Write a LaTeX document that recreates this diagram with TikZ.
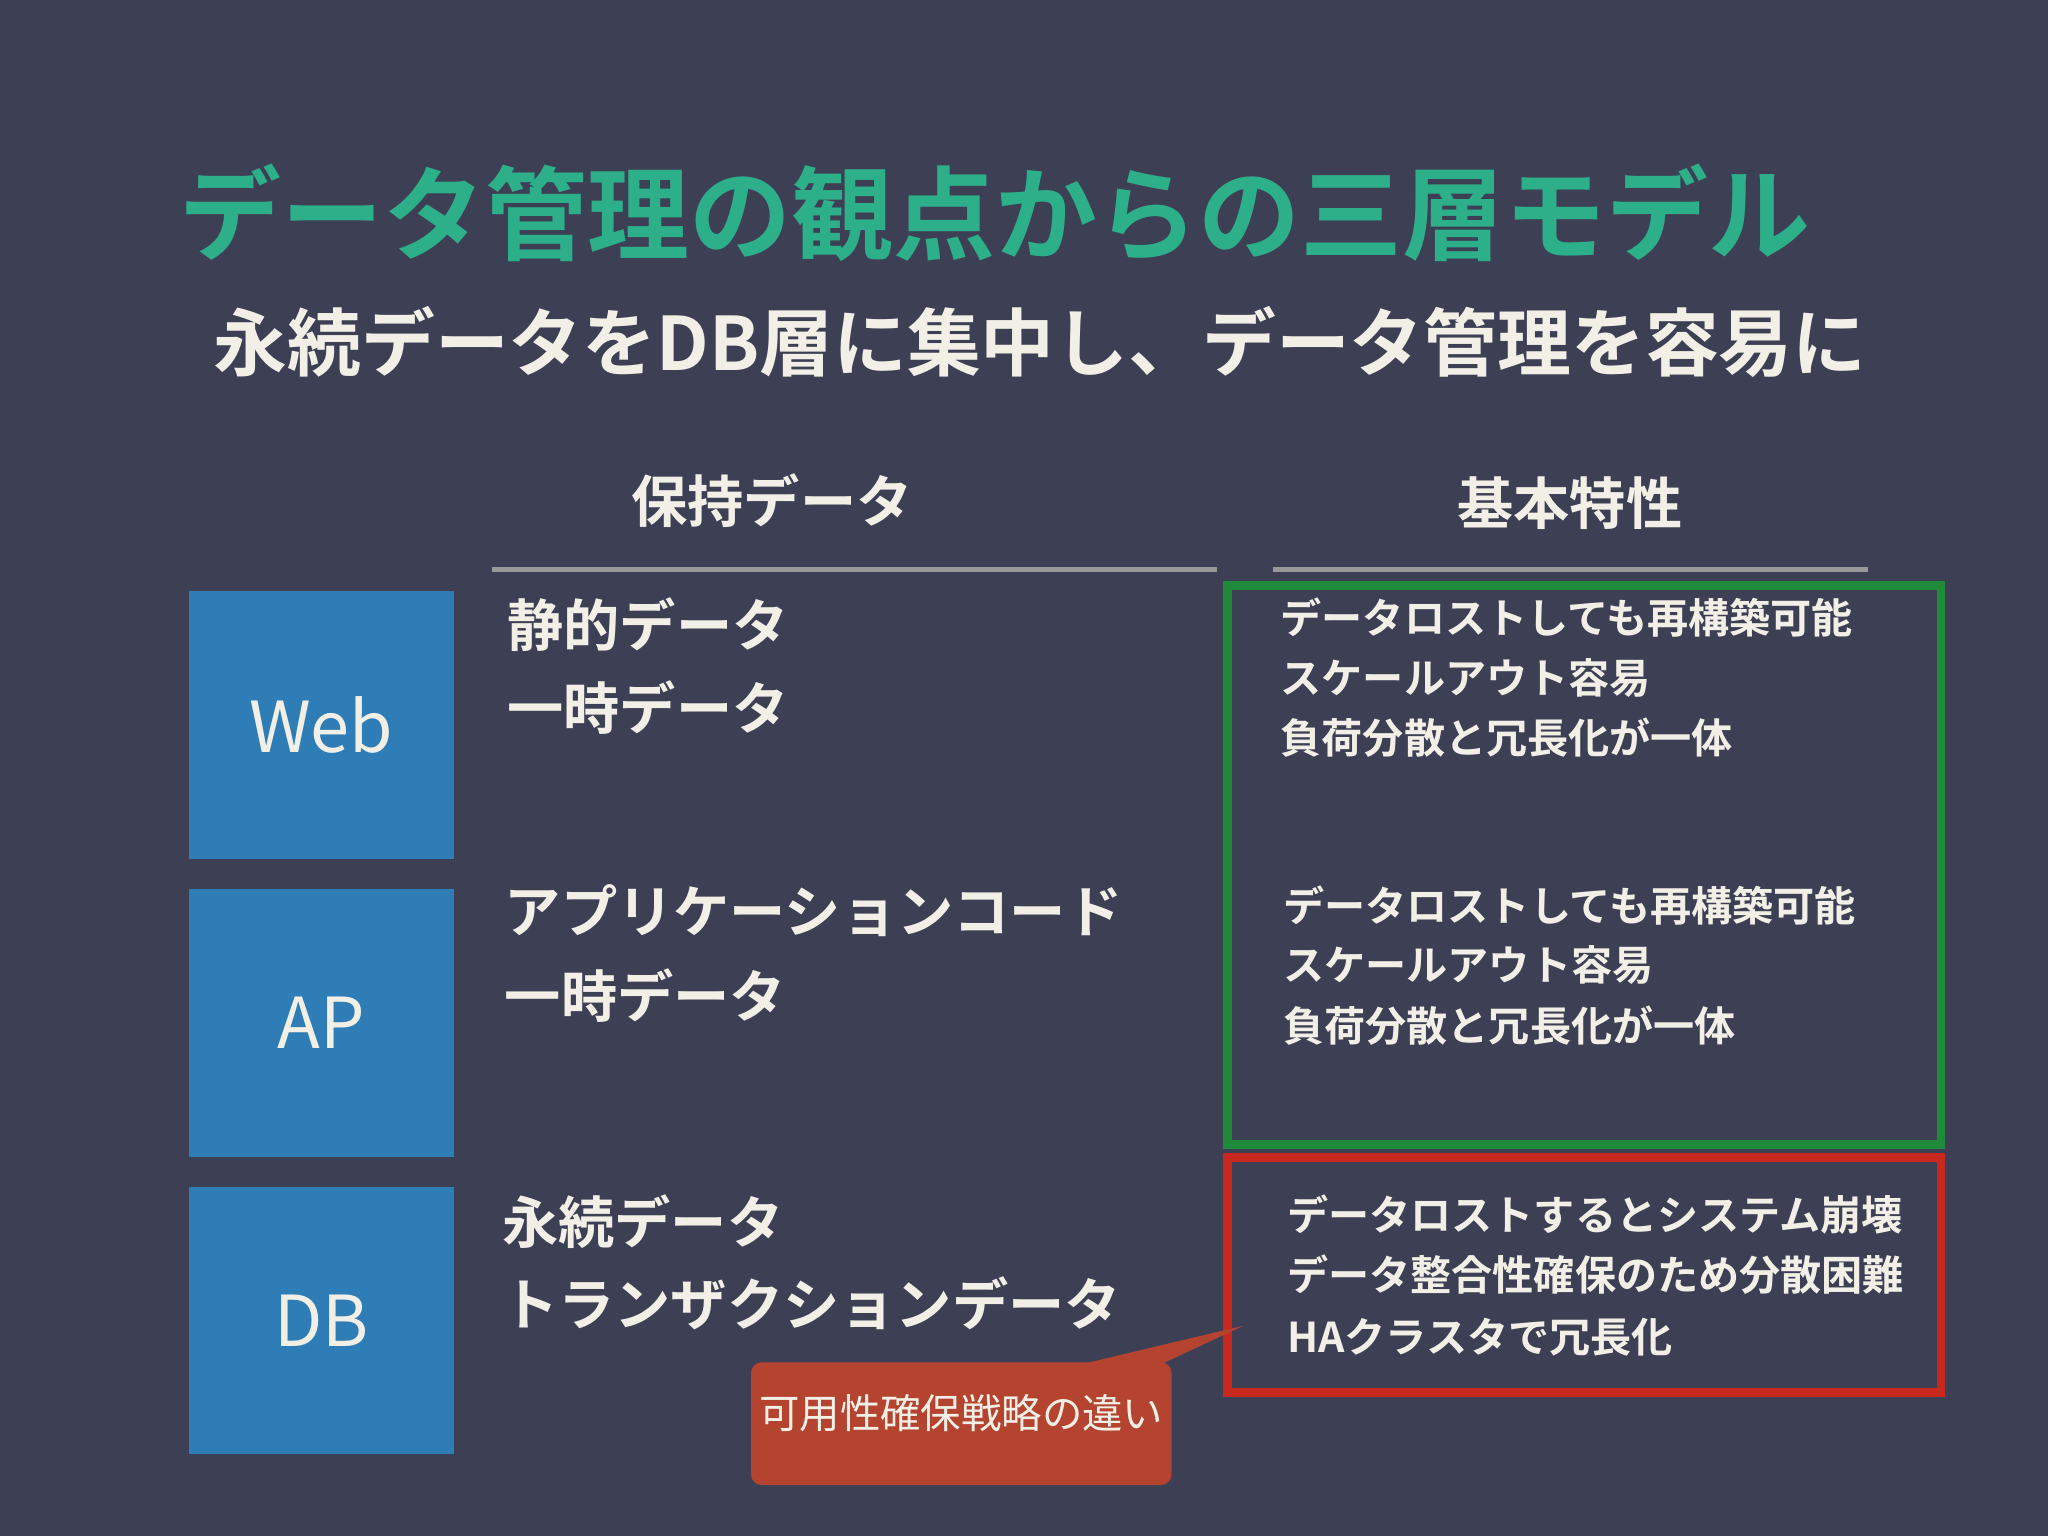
\documentclass[tikz,border=0pt]{standalone}
\usepackage{fontspec}
\setmainfont{Noto Sans CJK JP}
\newfontfamily\jpb{Noto Sans CJK JP}[BoldFont={* Bold}]
\definecolor{bg}{HTML}{3D3F55}
\definecolor{ttl}{HTML}{2DB08A}
\definecolor{wht}{HTML}{F2F0E6}
\definecolor{blu}{HTML}{2F7DB6}
\definecolor{grn}{HTML}{1E8A3A}
\definecolor{rd}{HTML}{C8281E}
\definecolor{cal}{HTML}{B4432F}
\newcommand{\pxu}{*0.013061cm}
\tikzset{
 layer/.style={fill=blu,draw=none,minimum width=203\pxu,minimum height=205\pxu,font=\fontsize{20}{22}\selectfont,text=wht,inner sep=0},
 ltxt/.style={anchor=west,text=wht,font=\jpb\bfseries\fontsize{16}{18}\selectfont,inner sep=0},
 rtxt/.style={anchor=west,text=wht,font=\jpb\bfseries\fontsize{11.7}{13}\selectfont,inner sep=0},
 hdr/.style={text=wht,font=\jpb\bfseries\fontsize{16}{18}\selectfont,inner sep=0},
}
\begin{document}
\begin{tikzpicture}[x=0.013061cm,y=-0.013061cm]
\fill[bg] (0,0) rectangle (1568,1176);
\node[anchor=west,text=ttl,font=\jpb\bfseries\fontsize{29}{32}\selectfont,inner sep=0] (title) at (137,163) {データ管理の観点からの三層モデル};
\node[anchor=west,text=wht,font=\jpb\bfseries\fontsize{21}{24}\selectfont,inner sep=0] (sub) at (163,262) {永続データをDB層に集中し、データ管理を容易に};
\node[hdr] (h1) at (591,383) {保持データ};
\node[hdr] (h2) at (1202,385) {基本特性};
\draw[gray!80,line width=1.5pt] (377,436) -- (932,436);
\draw[gray!80,line width=1.5pt] (975,436) -- (1430,436);
\node[layer] (web) at (246,555) {Web};
\node[layer] (ap) at (246,783) {AP};
\node[layer] (db) at (246,1011) {DB};
\node[ltxt] (w1) at (388,478) {静的データ};
\node[ltxt] (w2) at (388,542) {一時データ};
\node[ltxt] (a1) at (386,697) {アプリケーションコード};
\node[ltxt] (a2) at (386,762) {一時データ};
\node[ltxt] (d1) at (384,935) {永続データ};
\node[ltxt] (d2) at (384,998) {トランザクションデータ};
\draw[grn,line width=2.5pt] (940,448) rectangle (1486,876);
\draw[rd,line width=2.5pt] (940,886) rectangle (1486,1066);
\node[rtxt] (r1) at (980,473) {データロストしても再構築可能};
\node[rtxt] (r2) at (980,519) {スケールアウト容易};
\node[rtxt] (r3) at (980,565) {負荷分散と冗長化が一体};
\node[rtxt] (r4) at (982,693) {データロストしても再構築可能};
\node[rtxt] (r5) at (982,739) {スケールアウト容易};
\node[rtxt] (r6) at (982,785) {負荷分散と冗長化が一体};
\node[rtxt] (r7) at (985,930) {データロストするとシステム崩壊};
\node[rtxt] (r8) at (985,976) {データ整合性確保のため分散困難};
\node[rtxt] (r9) at (985,1024) {HAクラスタで冗長化};
\coordinate (tip) at (952,1015);
\fill[cal,rounded corners=3pt] (575,1043) rectangle (897,1137);
\fill[cal] (830,1044) -- (tip) -- (890,1044) -- cycle;
\node[text=wht,font=\fontsize{11.5}{13}\selectfont,inner sep=0] (call) at (736,1082) {可用性確保戦略の違い};
\end{tikzpicture}
\end{document}
